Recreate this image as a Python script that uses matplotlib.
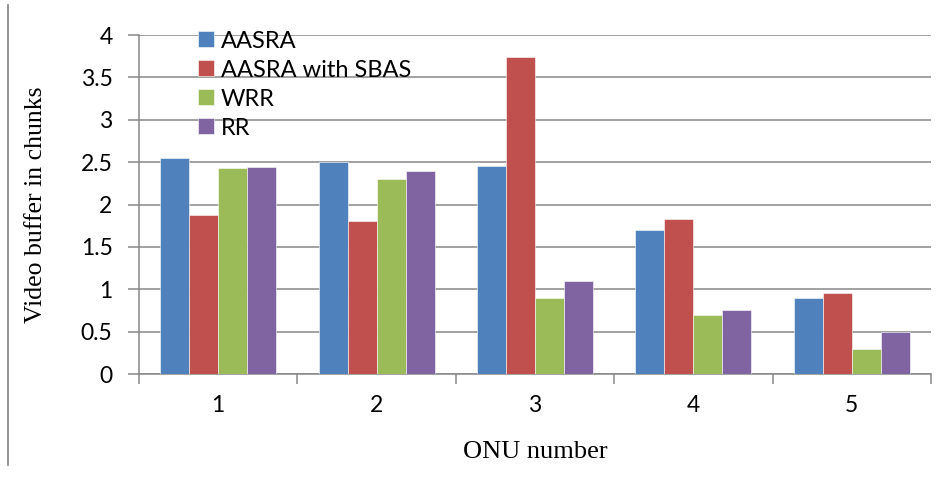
import numpy as np
import matplotlib
matplotlib.use('Agg')
import matplotlib.pyplot as plt
from matplotlib.lines import Line2D

# data
onus = ['1', '2', '3', '4', '5']
aasra = [2.55, 2.50, 2.45, 1.70, 0.90]
aasra_sbas = [1.88, 1.80, 3.74, 1.83, 0.95]
wrr = [2.43, 2.30, 0.90, 0.70, 0.30]
rr = [2.44, 2.40, 1.10, 0.75, 0.50]

series = [('AASRA', aasra, '#4F81BD'),
          ('AASRA with SBAS', aasra_sbas, '#C0504D'),
          ('WRR', wrr, '#9BBB59'),
          ('RR', rr, '#8064A2')]

tick_font = 'Lato'
label_font = 'Liberation Serif'

fig = plt.figure(figsize=(9.44, 4.9), dpi=100)
ax = fig.add_axes([139/944, 1 - 374/490, (931 - 139)/944, (374 - 35)/490])

x = np.arange(len(onus))
w = 0.183
for i, (name, vals, col) in enumerate(series):
    ax.bar(x + (i - 1.5) * w, vals, w, color=col, label=name,
           edgecolor='white', linewidth=0.4, zorder=3)

ax.set_xlim(-0.5, len(onus) - 0.5)
ax.set_ylim(0, 4)
ax.set_yticks(np.arange(0, 4.01, 0.5))
ax.set_yticklabels(['0', '0.5', '1', '1.5', '2', '2.5', '3', '3.5', '4'])
ax.yaxis.grid(True, color='#878787', linewidth=1.1, zorder=0)
ax.set_axisbelow(True)

ax.set_xticks(x)
ax.set_xticklabels(onus)
ax.set_xticks(np.arange(-0.5, len(onus), 1), minor=True)
ax.tick_params(axis='x', which='major', length=0, pad=15)
ax.tick_params(axis='x', which='minor', length=7, width=1.1, color='#878787')
ax.tick_params(axis='y', length=8, width=1.1, color='#878787', pad=11)
for lab in ax.get_xticklabels() + ax.get_yticklabels():
    lab.set_fontfamily(tick_font)
    lab.set_fontsize(16.5)

for s in ['top', 'right']:
    ax.spines[s].set_visible(False)
for s in ['left', 'bottom']:
    ax.spines[s].set_color('#878787')
    ax.spines[s].set_linewidth(1.1)

ax.set_xlabel('ONU number', fontfamily=label_font, fontsize=19, labelpad=18)
ax.set_ylabel('Video buffer in chunks', fontfamily=label_font, fontsize=18.5, labelpad=24)

ax.legend(loc='upper left', bbox_to_anchor=(0.062, 1.041), frameon=False,
          prop={'family': tick_font, 'size': 17}, handlelength=0.68,
          handleheight=0.68, handletextpad=0.3, labelspacing=0.34,
          borderaxespad=0)

# thin vertical rule at the left edge of the picture
fig.add_artist(Line2D([8/944, 8/944], [1 - 465/490, 1 - 5/490],
                      transform=fig.transFigure, color='#808080', linewidth=1.2))

plt.savefig('out.png', dpi=100)
plt.close()
